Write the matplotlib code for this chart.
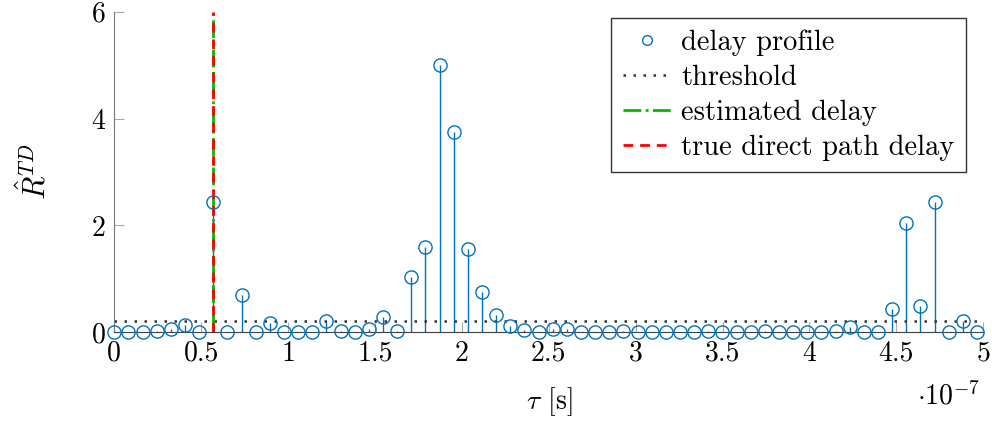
import matplotlib
matplotlib.use("Agg")
import matplotlib.pyplot as plt
import numpy as np
from matplotlib.lines import Line2D

plt.rcParams["font.family"] = ["cmr10", "DejaVu Serif"]
plt.rcParams["mathtext.fontset"] = "cm"
plt.rcParams["axes.unicode_minus"] = False
plt.rcParams["axes.formatter.use_mathtext"] = True

# delay profile samples, one per sampling interval (fs = 122.88 MHz)
fs = 122.88e6
r_td = [0.00, 0.00, 0.00, 0.02, 0.06, 0.14, 0.00, 2.44, 0.00, 0.70,
        0.00, 0.17, 0.00, 0.01, 0.00, 0.21, 0.02, 0.01, 0.07, 0.28,
        0.03, 1.03, 1.60, 5.01, 3.74, 1.56, 0.75, 0.32, 0.12, 0.04,
        0.00, 0.07, 0.06, 0.00, 0.00, 0.01, 0.03, 0.00, 0.00, 0.00,
        0.00, 0.00, 0.02, 0.00, 0.00, 0.01, 0.02, 0.00, 0.01, 0.00,
        0.01, 0.03, 0.09, 0.00, 0.00, 0.43, 2.04, 0.49, 2.44, 0.00,
        0.22, 0.01]
tau = np.arange(len(r_td)) / fs

threshold = 0.22
est_delay = 7 / fs
true_delay = 7 / fs

xticks = [0, 0.5, 1, 1.5, 2, 2.5, 3, 3.5, 4, 4.5, 5]
xtick_labels = ["0", "0.5", "1", "1.5", "2", "2.5", "3", "3.5", "4", "4.5", "5"]
yticks = [0, 2, 4, 6]

blue = (0, 0.447, 0.741)
dotted = (0, (1, 3))

fig = plt.figure(figsize=(9.92, 4.21), dpi=100)
ax = fig.add_axes([0.1152, 0.2107, 0.876, 0.7615])

markerline, stemlines, baseline = ax.stem(tau, r_td, basefmt=" ")
markerline.set(marker="o", markersize=9.5, markerfacecolor="none",
               markeredgecolor=blue, markeredgewidth=1.0, clip_on=False, zorder=4)
stemlines.set(color=blue, linewidth=1.0)

ax.axhline(threshold, color="#333333", linestyle=dotted, linewidth=1.8)
ax.plot([est_delay, est_delay], [0, 6], color="#00bb00", linestyle="-.", linewidth=2)
ax.plot([true_delay, true_delay], [0, 6], color="#ff0000", linestyle=(0, (3.5, 2.5)), linewidth=2)

ax.set_xlim(0, 5e-7)
ax.set_ylim(0, 6)
ax.set_xticks([t * 1e-7 for t in xticks])
ax.set_xticklabels(xtick_labels)
ax.set_yticks(yticks)

for side in ["top", "right"]:
    ax.spines[side].set_visible(False)
ax.spines["left"].set_color("#777777")
ax.spines["bottom"].set_color("#404040")
ax.tick_params(direction="in", length=7, width=0.8, color="#aaaaaa",
               labelsize=20, pad=6)

ax.set_xlabel(r"$\tau$ [s]", fontsize=20, labelpad=13)
ax.set_ylabel(r"$\hat{R}^{TD}$", fontsize=22, labelpad=28)
fig.text(0.924, 0.040, r"$\cdot 10^{-7}$", fontsize=20, ha="left", va="baseline")

handles = [
    Line2D([], [], linestyle="none", marker="o", markersize=7,
           markerfacecolor="none", markeredgecolor=blue, markeredgewidth=1.0),
    Line2D([], [], color="#333333", linestyle=dotted, linewidth=1.8),
    Line2D([], [], color="#00bb00", linestyle="-.", linewidth=2),
    Line2D([], [], color="#ff0000", linestyle=(0, (3.5, 2.5)), linewidth=2),
]
labels = ["delay profile", "threshold", "estimated delay", "true direct path delay"]
leg = ax.legend(handles, labels, loc="upper right", bbox_to_anchor=(0.9798, 0.979),
                borderaxespad=0, fontsize=20.5, fancybox=False, framealpha=1,
                edgecolor="#333333", handlelength=1.7, handletextpad=0.35,
                labelspacing=0.3, borderpad=0.4)
leg.get_frame().set_linewidth(1.0)

fig.savefig("out.png", dpi=100)
